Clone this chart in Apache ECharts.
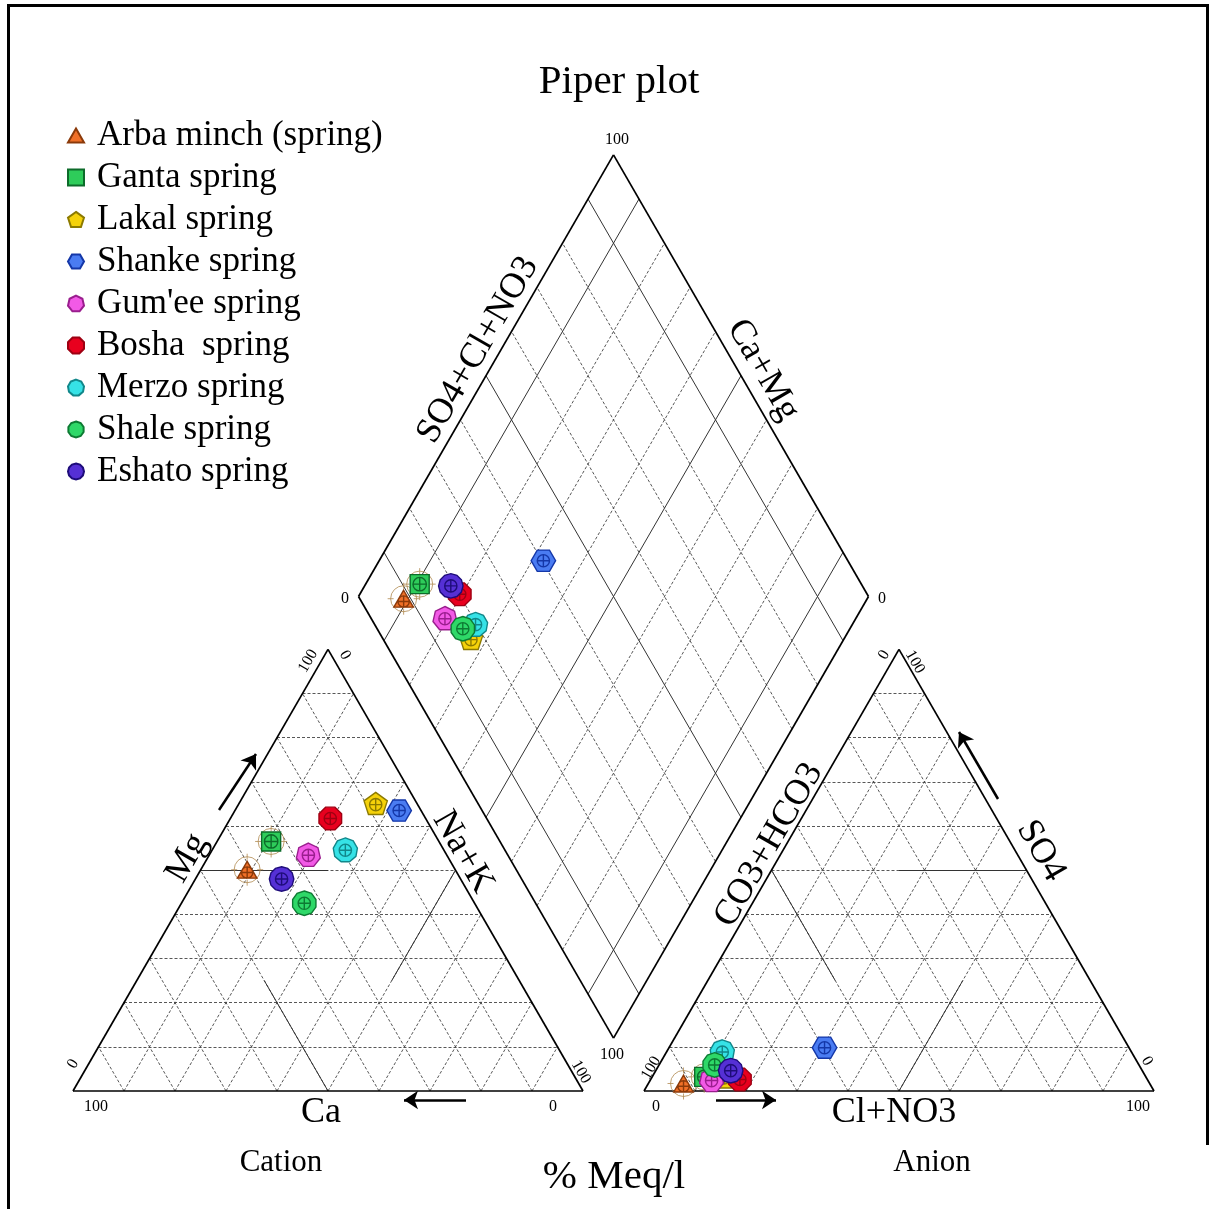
<!DOCTYPE html>
<html>
<head>
<meta charset="utf-8">
<script src="https://cdn.jsdelivr.net/npm/echarts@6/dist/echarts.min.js"></script>
<style>
html, body { margin: 0; padding: 0; background: #fff; }
#chart { width: 1214px; height: 1209px; }
</style>
</head>
<body>
<div id="chart"></div>
<script>
// samples (legend order = drawing order)
var samples = ['Arba minch (spring)', 'Ganta spring', 'Lakal spring', 'Shanke spring', "Gum'ee spring",
	'Bosha  spring', 'Merzo spring', 'Shale spring', 'Eshato spring'];

// cations, % meq/l
var ca  = [40.8, 32.9,  8.1,  4.3, 27.1, 18.7, 19.3, 33.4, 35.1];
var mg  = [50.1, 56.5, 65.1, 63.5, 53.5, 61.7, 54.6, 42.5, 48.0];
var nak = [ 9.1, 10.6, 26.8, 32.2, 19.4, 19.6, 26.1, 24.1, 16.9];

// anions, % meq/l
var hco3 = [91.4, 86.6, 82.7, 59.7, 85.5, 79.9, 80.2, 83.2, 80.7];
var so4  = [ 1.7,  3.2,  3.2,  9.8,  2.5,  2.6,  8.9,  5.9,  4.6];
var cl   = [ 6.9, 10.2, 14.1, 30.5, 12.0, 17.5, 10.9, 10.9, 14.7];

// samples drawn with an extra ring
var ringed = [0, 1];

// grid ticks (%)
var gridTicks = [10, 20, 30, 40, 50, 60, 70, 80, 90];
var diamondMajor = [10, 50, 90];

// marker look
var sides = [3, 4, 5, 6, 7, 8, 9, 10, 12];
var fills = ['#F07028', '#2ECC5A', '#F5D20A', '#4A7CF2', '#F25AE6', '#E8001E', '#36E2E6', '#2ED868', '#5530D5'];
var edges = ['#8B3A0A', '#0D6B2A', '#8C7A00', '#1437A8', '#9A1E8E', '#9E0012', '#11878A', '#0D7A33', '#1E0C7A'];

// layout (pixels)
var SIDE = 510, H = SIDE * Math.sqrt(3) / 2;
var CAT = [73, 1091], ANI = [644, 1091];
var DIA = [613.5, 1091 - 61 * Math.sqrt(3) / 2];
var FONT = '"Liberation Serif", "Times New Roman", serif';
var MARK = 24.5; // diameter of the circumscribed circle

function tern(o, right, top) { // right corner component, apex component
	return [o[0] + (right + top / 2) / 100 * SIDE, o[1] - top / 100 * H];
}
function diamond(cm, sc) { // Ca+Mg, SO4+Cl+NO3
	return [DIA[0] + (sc - cm) / 100 * SIDE / 2, DIA[1] - (cm + sc) / 100 * H];
}

function polyVerts(n) {
	var start = -Math.PI / 2;
	if (n === 4) start = -Math.PI / 4;
	if (n === 6) start = 0;
	if (n === 8) start = -Math.PI / 2 + Math.PI / 8;
	var v = [];
	for (var k = 0; k < n; k++) {
		var a = start + k * 2 * Math.PI / n;
		v.push([10 * Math.cos(a), 10 * Math.sin(a)]);
	}
	return v;
}
function shapePath(n, cross) {
	var d = '';
	polyVerts(n).forEach(function(p, k) {
		d += (k ? 'L' : 'M') + p[0].toFixed(2) + ',' + p[1].toFixed(2);
	});
	d += 'Z';
	if (cross) d += 'M5,0A5,5 0 1,1 -5,0A5,5 0 1,1 5,0ZM-5,0L5,0M0,-5L0,5';
	return 'path://' + d;
}
// path symbols are fitted to their bounding box, so scale to keep equal radius
function shapeSize(n, base) {
	if (n === 3) return 19.5;
	if (n === 4) return 19;
	var v = polyVerts(n), xs = v.map(function(p) { return p[0]; }), ys = v.map(function(p) { return p[1]; });
	var ext = Math.max(Math.max.apply(null, xs) - Math.min.apply(null, xs), Math.max.apply(null, ys) - Math.min.apply(null, ys));
	return base * ext / 20;
}
var ringPath = 'path://M13,0A13,13 0 1,1 -13,0A13,13 0 1,1 13,0ZM0,-16L0,-10M0,10L0,16M-16,0L-10,0M10,0L16,0';

// outlines, zone lines and grid
var outline = [], zones = [], dashed = [], diaSolid = [];
function seg(arr, a, b) { arr.push({ coords: [a, b] }); }

[CAT, ANI].forEach(function(o) {
	seg(outline, tern(o, 0, 0), tern(o, 100, 0));
	seg(outline, tern(o, 100, 0), tern(o, 0, 100));
	seg(outline, tern(o, 0, 100), tern(o, 0, 0));
	gridTicks.forEach(function(v) {
		seg(dashed, tern(o, 0, v), tern(o, 100 - v, v));
		seg(dashed, tern(o, 100 - v, 0), tern(o, 0, 100 - v));
		seg(dashed, tern(o, v, 0), tern(o, v, 100 - v));
	});
});
// cation zone lines
seg(zones, tern(CAT, 0, 50), tern(CAT, 25, 50));
seg(zones, tern(CAT, 50, 0), tern(CAT, 25, 25));
seg(zones, tern(CAT, 50, 50), tern(CAT, 50, 25));
// anion zone lines
seg(zones, tern(ANI, 50, 50), tern(ANI, 25, 50));
seg(zones, tern(ANI, 50, 0), tern(ANI, 50, 25));
seg(zones, tern(ANI, 0, 50), tern(ANI, 25, 25));
// diamond
seg(outline, diamond(0, 0), diamond(100, 0));
seg(outline, diamond(100, 0), diamond(100, 100));
seg(outline, diamond(100, 100), diamond(0, 100));
seg(outline, diamond(0, 100), diamond(0, 0));
gridTicks.forEach(function(v) {
	var arr = diamondMajor.indexOf(v) >= 0 ? diaSolid : dashed;
	seg(arr, diamond(0, v), diamond(100, v));
	seg(arr, diamond(v, 0), diamond(v, 100));
});

var arrows = [
	{ coords: [[219, 810], [256, 754]] },
	{ coords: [[466, 1100], [404, 1100]] },
	{ coords: [[716, 1100], [776, 1100]] },
	{ coords: [[998, 799], [959, 732]] }
];

var series = [
	{ type: 'lines', coordinateSystem: 'cartesian2d', z: 1, silent: true, data: dashed,
		lineStyle: { color: '#444', width: 0.9, type: [3, 2], opacity: 1 } },
	{ type: 'lines', coordinateSystem: 'cartesian2d', z: 2, silent: true, data: diaSolid.concat(zones),
		lineStyle: { color: '#333', width: 1, type: 'solid', opacity: 1 } },
	{ type: 'lines', coordinateSystem: 'cartesian2d', z: 3, silent: true, data: outline,
		lineStyle: { color: '#000', width: 1.7, type: 'solid', opacity: 1 } },
	{ type: 'lines', coordinateSystem: 'cartesian2d', z: 3, silent: true, data: arrows,
		symbol: ['none', 'arrow'], symbolSize: 14,
		lineStyle: { color: '#000', width: 2.5, type: 'solid', opacity: 1 } }
];

var ringData = [];
ringed.forEach(function(i) {
	ringData.push(tern(CAT, nak[i], mg[i]), tern(ANI, cl[i], so4[i]), diamond(ca[i] + mg[i], so4[i] + cl[i]));
});
series.push({
	type: 'scatter', name: 'ring', z: 9, silent: true, symbol: ringPath, symbolSize: 32,
	itemStyle: { color: 'rgba(0,0,0,0)', borderColor: '#B08A50', borderWidth: 1 },
	data: ringData
});

samples.forEach(function(name, i) {
	series.push({
		type: 'scatter', name: name, z: 10 + i, silent: true,
		symbol: shapePath(sides[i], true), symbolSize: shapeSize(sides[i], MARK), symbolKeepAspect: true,
		itemStyle: { color: fills[i], borderColor: edges[i], borderWidth: 1.4, opacity: 1 },
		data: [
			tern(CAT, nak[i], mg[i]),
			tern(ANI, cl[i], so4[i]),
			diamond(ca[i] + mg[i], so4[i] + cl[i])
		]
	});
});

function txt(s, x, y, size, rot) {
	return { type: 'text', x: x, y: y, rotation: rot || 0, z: 50, silent: true,
		style: { text: s, font: size + 'px ' + FONT, fill: '#000', align: 'center', verticalAlign: 'middle' } };
}
var R = Math.PI / 3;
var graphics = [
	{ type: 'line', z: 50, shape: { x1: 7, y1: 5.5, x2: 1209, y2: 5.5 }, style: { stroke: '#000', lineWidth: 3 } },
	{ type: 'line', z: 50, shape: { x1: 8.5, y1: 4, x2: 8.5, y2: 1209 }, style: { stroke: '#000', lineWidth: 3 } },
	{ type: 'line', z: 50, shape: { x1: 1207.5, y1: 4, x2: 1207.5, y2: 1145 }, style: { stroke: '#000', lineWidth: 3 } },
	txt('Piper plot', 619, 82, 41),
	txt('SO4+Cl+NO3', 478, 350, 36, R),
	txt('Ca+Mg', 763, 370, 36, -R),
	txt('Mg', 187, 858, 36, R),
	txt('Na+K', 463, 852, 36, -R),
	txt('CO3+HCO3', 769, 845, 36, R),
	txt('SO4', 1041, 851, 36, -R),
	txt('Ca', 321, 1113, 36),
	txt('Cl+NO3', 894, 1113, 36),
	txt('Cation', 281, 1163, 31),
	txt('Anion', 932, 1163, 31),
	txt('% Meq/l', 614, 1177, 41),
	// diamond ticks
	txt('100', 617, 140, 16), txt('0', 345, 599, 16), txt('0', 882, 599, 16), txt('100', 612, 1055, 16),
	// cation ticks
	txt('100', 308, 661, 16, R), txt('0', 345, 655, 16, -R),
	txt('0', 73, 1064, 16, R), txt('100', 581, 1072, 16, -R),
	txt('100', 96, 1107, 16), txt('0', 553, 1107, 16),
	// anion ticks
	txt('0', 884, 655, 16, R), txt('100', 915, 662, 16, -R),
	txt('100', 651, 1068, 16, R), txt('0', 1147, 1061, 16, -R),
	txt('0', 656, 1107, 16), txt('100', 1138, 1107, 16)
];

var chart = echarts.init(document.getElementById('chart'));
chart.setOption({
	animation: false,
	backgroundColor: '#fff',
	grid: { left: 0, right: 0, top: 0, bottom: 0 },
	xAxis: { type: 'value', min: 0, max: 1214, show: false },
	yAxis: { type: 'value', min: 0, max: 1209, inverse: true, show: false },
	legend: {
		orient: 'vertical', left: 62, top: 113, itemWidth: 16, itemHeight: 16, itemGap: 7,
		selectedMode: false,
		textStyle: { fontFamily: FONT, fontSize: 35, color: '#000', lineHeight: 35, padding: [0, 0, 0, 8] },
		data: samples.map(function(n, i) {
			return { name: n, icon: shapePath(sides[i], false) };
		})
	},
	graphic: graphics,
	series: series
});
</script>
</body>
</html>
